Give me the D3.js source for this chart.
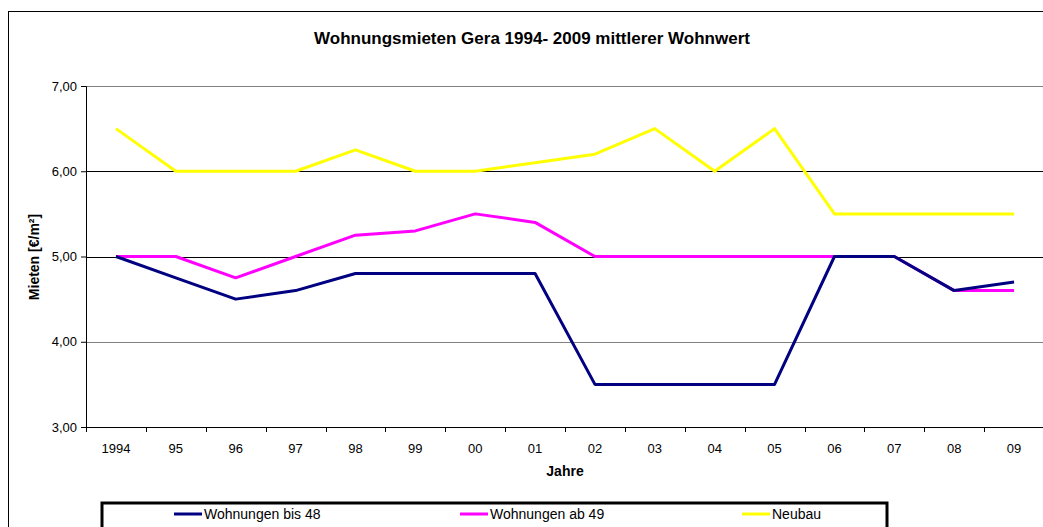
<!DOCTYPE html>
<html>
<head>
<meta charset="utf-8">
<script src="https://cdn.jsdelivr.net/npm/d3@7"></script>
<style>
  body { margin: 0; background: #fff; }
  svg { display: block; font-family: "Liberation Sans", Arial, sans-serif; }
</style>
</head>
<body>
<div id="chart"></div>
<script>
// Wohnungsmieten Gera, mittlerer Wohnwert (Euro/m²)
var years = ["1994", "95", "96", "97", "98", "99", "00", "01", "02", "03", "04", "05", "06", "07", "08", "09"]
var bis48 = [5.0, 4.75, 4.5, 4.6, 4.8, 4.8, 4.8, 4.8, 3.5, 3.5, 3.5, 3.5, 5.0, 5.0, 4.6, 4.7]
var ab49 = [5.0, 5.0, 4.75, 5.0, 5.25, 5.3, 5.5, 5.4, 5.0, 5.0, 5.0, 5.0, 5.0, 5.0, 4.6, 4.6]
var neubau = [6.5, 6.0, 6.0, 6.0, 6.25, 6.0, 6.0, 6.1, 6.2, 6.5, 6.0, 6.5, 5.5, 5.5, 5.5, 5.5]
var yTicks = [3, 4, 5, 6, 7]
var seriesNames = ["Wohnungen bis 48", "Wohnungen ab 49", "Neubau"]
var seriesColors = ["#000080", "#ff00ff", "#ffff00"]

const width = 1043, height = 527
const margin = {top: 86, left: 86}
const plotW = 958, plotH = 341

var svg = d3.select("#chart").append("svg").attr("width", width).attr("height", height)

// outer chart border (runs past the window on right/bottom)
svg.append("rect").attr("x", 8.5).attr("y", 11.5).attr("width", 1060).attr("height", 540)
    .attr("fill", "none").attr("stroke", "#000").attr("stroke-width", 1)

svg.append("text").attr("x", 532).attr("y", 44).attr("text-anchor", "middle")
    .style("font-weight", "bold").style("font-size", "17px").text("Wohnungsmieten Gera 1994- 2009 mittlerer Wohnwert")

var x = d3.scaleBand().domain(years).range([0, plotW])
var y = d3.scaleLinear().domain([3, 7]).range([plotH, 0])

var g = svg.append("g").attr("transform", "translate(" + margin.left + "," + margin.top + ")")

// gridlines
g.selectAll("line.grid").data(yTicks.filter(d => d > 3)).enter().append("line")
    .attr("x1", 0).attr("x2", plotW)
    .attr("y1", d => Math.round(y(d)) + 0.5).attr("y2", d => Math.round(y(d)) + 0.5)
    .attr("stroke", d => (d == 5 || d == 6) ? "#000" : "#808080").attr("stroke-width", 1)

// y axis
var yAxis = g.append("g").call(d3.axisLeft(y).tickValues(yTicks).tickSize(5).tickFormat(d => d3.format(".2f")(d).replace(".", ",")))
yAxis.select(".domain").attr("stroke", "#000")
yAxis.selectAll("text").style("font-size", "13px").attr("fill", "#000").attr("x", -9)

// x axis
var xAxis = g.append("g").attr("transform", "translate(0," + plotH + ")").call(d3.axisBottom(x).tickSize(0))
xAxis.select(".domain").attr("stroke", "#000")
xAxis.selectAll("text").style("font-size", "13px").attr("fill", "#000").attr("y", 17)
// tick marks sit on the category boundaries
g.selectAll("line.xtick").data(years).enter().append("line")
    .attr("x1", d => Math.round(x(d)) + 0.5).attr("x2", d => Math.round(x(d)) + 0.5)
    .attr("y1", plotH).attr("y2", plotH + 5).attr("stroke", "#000")

g.append("text").attr("x", plotW / 2).attr("y", 476 - margin.top).attr("text-anchor", "middle")
    .style("font-weight", "bold").style("font-size", "14px").text("Jahre")

svg.append("text").attr("transform", "translate(39,257) rotate(-90)").attr("text-anchor", "middle")
    .style("font-weight", "bold").style("font-size", "14px").text("Mieten [€/m²]")

// lines
var line = d3.line().x((d, i) => x(years[i]) + x.bandwidth() / 2).y(d => y(d))
var allSeries = [bis48, ab49, neubau]
g.selectAll("path.series").data([neubau, ab49, bis48]).enter().append("path")
    .attr("d", line).attr("fill", "none").attr("stroke-width", 3).attr("stroke-linejoin", "round")
    .attr("stroke", d => seriesColors[allSeries.indexOf(d)])

// legend
svg.append("rect").attr("x", 102).attr("y", 503).attr("width", 785).attr("height", 40)
    .attr("fill", "#fff").attr("stroke", "#000").attr("stroke-width", 3)
var legendX = [174, 460, 742]
var leg = svg.selectAll("g.leg").data(seriesNames).enter().append("g")
    .attr("transform", (d, i) => "translate(" + legendX[i] + ",514)")
leg.append("line").attr("x1", 0).attr("x2", 28).attr("stroke", (d, i) => seriesColors[i]).attr("stroke-width", 3)
leg.append("text").attr("x", 30).attr("y", 5).style("font-size", "14px").text(d => d)
</script>
</body>
</html>
